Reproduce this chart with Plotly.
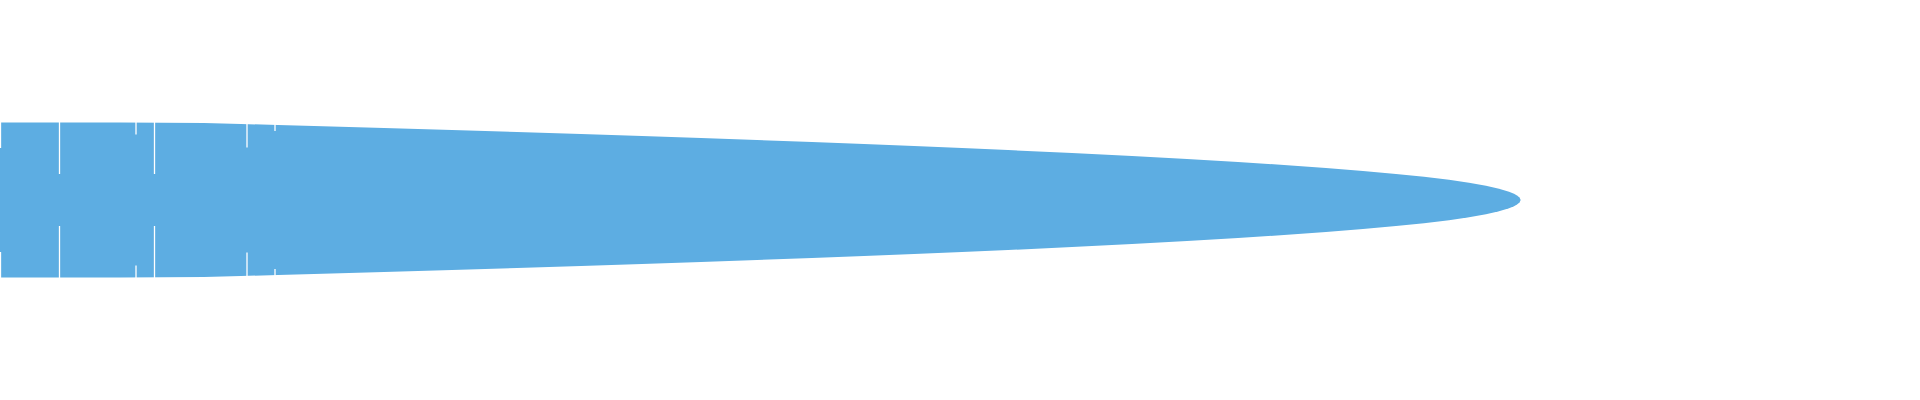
"""
Sideways density band with a few white cut marks.

Draws one mirrored (violin-like) area centred on zero and overlays short
white vertical marks that stop short of the centre band.
"""

import plotly.graph_objects as go


FILL_COLOR = "#5DADE2"

# ---------------------------------------------------------------------------
# Data
# ---------------------------------------------------------------------------

# position along the value axis
profile_x = [0, 120, 204, 241, 278, 314, 349, 384, 418, 452, 517, 581, 642,
             701, 757, 812, 864, 914, 962, 1008, 1072, 1132, 1187, 1238,
             1284, 1326, 1363, 1396, 1424, 1449, 1469, 1486, 1499, 1509,
             1514, 1517, 1519.5, 1520.7]
# half width of the band at that position
profile_hw = [77.5, 77.5, 77, 76, 75, 74, 73, 72, 71, 70, 68, 66, 64,
              62, 60, 58, 56, 54, 52, 50, 47, 44, 41, 38,
              35, 32, 29, 26, 23.2, 20.3, 17.3, 14.3, 11.3, 8.3,
              6.3, 4.5, 2.5, 0]

# white marks: where they sit and the half height of the gap they leave
mark_x = [0.5, 59.5, 136, 154.5, 247, 275]
mark_gap = [52, 26, 65.5, 26, 52.5, 69]


# ---------------------------------------------------------------------------
# Plot construction
# ---------------------------------------------------------------------------

def build_figure() -> go.Figure:
    fig = go.Figure()

    # closed outline: along the top, then back along the bottom
    band_x = profile_x + profile_x[::-1]
    band_y = profile_hw + [-h for h in profile_hw[::-1]]
    fig.add_trace(go.Scatter(
        x=band_x,
        y=band_y,
        mode="none",
        fill="toself",
        fillcolor=FILL_COLOR,
        hoverinfo="skip",
    ))

    # each mark is two segments, above and below the gap; they run past the
    # band edge, which is invisible on the white page
    seg_x, seg_y = [], []
    for x, gap in zip(mark_x, mark_gap):
        seg_x += [x, x, None, x, x, None]
        seg_y += [gap, 100, None, -gap, -100, None]
    fig.add_trace(go.Scatter(
        x=seg_x,
        y=seg_y,
        mode="lines",
        line=dict(color="white", width=1.3),
        hoverinfo="skip",
    ))

    fig.update_layout(
        width=1920,
        height=400,
        margin=dict(l=0, r=0, t=0, b=0),
        paper_bgcolor="white",
        plot_bgcolor="white",
        showlegend=False,
        hovermode=False,
        xaxis=dict(visible=False, range=[0, 1920], fixedrange=True),
        yaxis=dict(visible=False, range=[-200, 200], fixedrange=True),
    )
    return fig


def main():
    fig = build_figure()
    # the page's default 8px body margin would push the plot off the edge
    fig.write_html(
        "out.html",
        config={"displayModeBar": False},
        post_script="document.body.style.margin = '0';",
    )


if __name__ == "__main__":
    main()
